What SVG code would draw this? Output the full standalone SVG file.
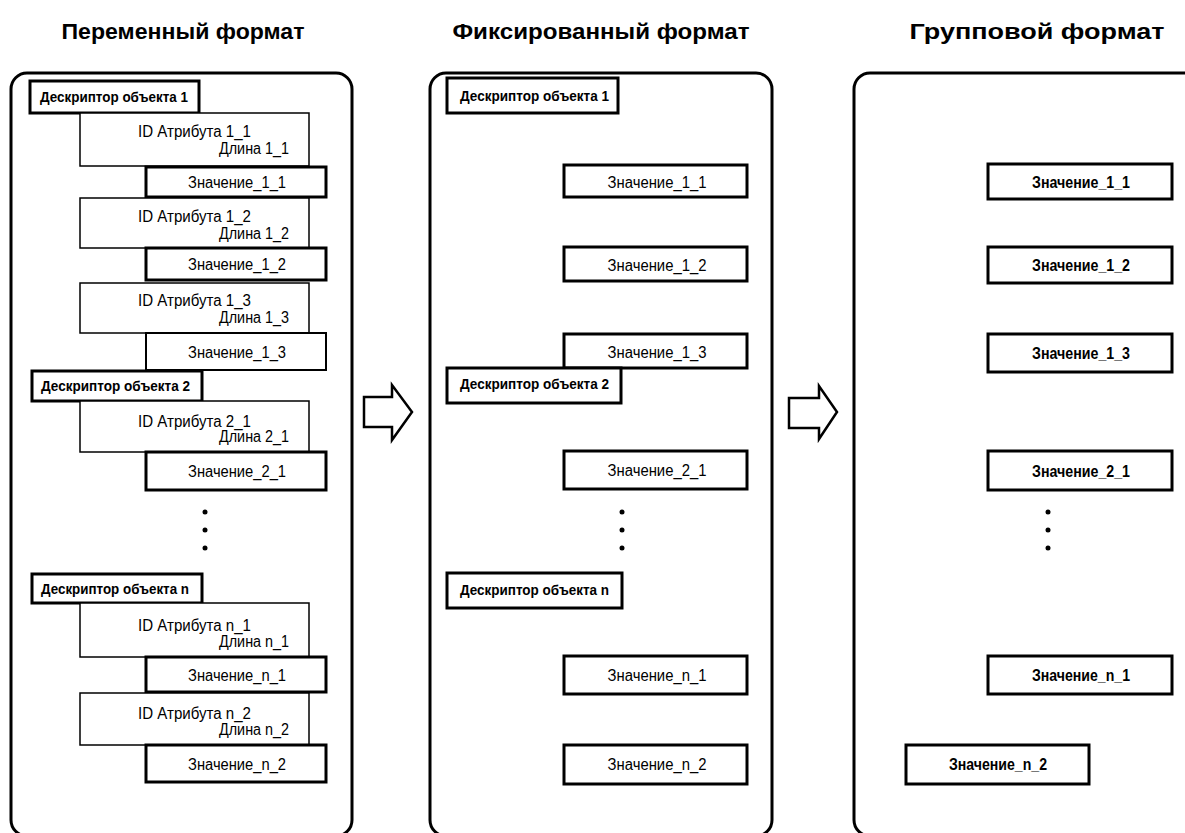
<svg xmlns="http://www.w3.org/2000/svg" width="1185" height="833" viewBox="0 0 1185 833">
<style>
text{font-family:"Liberation Sans",Arial,sans-serif;fill:#000}
.title{font-size:22px;font-weight:bold;text-anchor:middle}
.panel{fill:#fff;stroke:#000;stroke-width:3}
.thick{fill:#fff;stroke:#000;stroke-width:3}
.thin{fill:#fff;stroke:#000;stroke-width:1.5}
.desc{font-size:14px;font-weight:bold}
.val{font-size:16px;text-anchor:middle}
.valb{font-size:16px;font-weight:bold;text-anchor:middle}
.id{font-size:16px}
.len{font-size:16px;text-anchor:end}
.dot{fill:#000}
.arrow{fill:#fff;stroke:#000;stroke-width:2.5;stroke-linejoin:miter}
</style>
<rect width="1185" height="833" fill="#fff"/>
<g id="titles">
<text class="title" x="183" y="39" textLength="243" lengthAdjust="spacingAndGlyphs">Переменный формат</text>
<text class="title" x="601" y="39" textLength="297" lengthAdjust="spacingAndGlyphs">Фиксированный формат</text>
<text class="title" x="1037" y="39" textLength="255" lengthAdjust="spacingAndGlyphs">Групповой формат</text>
</g>
<g id="panels">
<rect id="panel-variable" class="panel" x="11" y="73" width="341" height="763" rx="16"/>
<rect id="panel-fixed" class="panel" x="430" y="73" width="342" height="763" rx="16"/>
<rect id="panel-group" class="panel" x="854" y="73" width="360" height="763" rx="16"/>
</g>
<g id="connectors">
<polygon class="arrow" points="364,397 392,397 392,385 412,412 392,440 392,427 364,427"/>
<polygon class="arrow" points="789,398 819,398 819,386 837,412 819,439 819,428 789,428"/>
</g>
<!-- Panel 1: variable format -->
<g id="v-desc1"><rect class="thick" x="30" y="81" width="169" height="32"/><text class="desc" x="40" y="102" textLength="148" lengthAdjust="spacingAndGlyphs">Дескриптор объекта 1</text></g>
<g id="v-attr1_1"><rect class="thin" x="80" y="113" width="229" height="53"/><text class="id" x="138" y="137" textLength="113" lengthAdjust="spacingAndGlyphs">ID Атрибута 1_1</text><text class="len" x="289" y="154" textLength="70" lengthAdjust="spacingAndGlyphs">Длина 1_1</text></g>
<g id="v-val1_1"><rect class="thick" x="146" y="167" width="180" height="30"/><text class="val" x="237" y="188" textLength="98" lengthAdjust="spacingAndGlyphs">Значение_1_1</text></g>
<g id="v-attr1_2"><rect class="thin" x="80" y="198" width="229" height="50"/><text class="id" x="138" y="222" textLength="113" lengthAdjust="spacingAndGlyphs">ID Атрибута 1_2</text><text class="len" x="289" y="239" textLength="70" lengthAdjust="spacingAndGlyphs">Длина 1_2</text></g>
<g id="v-val1_2"><rect class="thick" x="146" y="248" width="180" height="32"/><text class="val" x="237" y="270" textLength="98" lengthAdjust="spacingAndGlyphs">Значение_1_2</text></g>
<g id="v-attr1_3"><rect class="thin" x="80" y="283" width="229" height="50"/><text class="id" x="138" y="306" textLength="113" lengthAdjust="spacingAndGlyphs">ID Атрибута 1_3</text><text class="len" x="289" y="323" textLength="70" lengthAdjust="spacingAndGlyphs">Длина 1_3</text></g>
<g id="v-val1_3"><rect class="thin" x="146" y="333" width="180" height="37" style="stroke-width:2"/><text class="val" x="237" y="358" textLength="98" lengthAdjust="spacingAndGlyphs">Значение_1_3</text></g>
<g id="v-desc2"><rect class="thick" x="32" y="371" width="170" height="30"/><text class="desc" x="41" y="391" textLength="149" lengthAdjust="spacingAndGlyphs">Дескриптор объекта 2</text></g>
<g id="v-attr2_1"><rect class="thin" x="80" y="401" width="229" height="51"/><text class="id" x="138" y="427" textLength="113" lengthAdjust="spacingAndGlyphs">ID Атрибута 2_1</text><text class="len" x="289" y="442" textLength="70" lengthAdjust="spacingAndGlyphs">Длина 2_1</text></g>
<g id="v-val2_1"><rect class="thick" x="146" y="452" width="180" height="38"/><text class="val" x="237" y="477" textLength="98" lengthAdjust="spacingAndGlyphs">Значение_2_1</text></g>
<g id="v-dots"><circle class="dot" cx="205" cy="512" r="2.5"/><circle class="dot" cx="205" cy="530" r="2.5"/><circle class="dot" cx="205" cy="548" r="2.5"/></g>
<g id="v-descn"><rect class="thick" x="32" y="574" width="170" height="29"/><text class="desc" x="41" y="594" textLength="148" lengthAdjust="spacingAndGlyphs">Дескриптор объекта n</text></g>
<g id="v-attrn_1"><rect class="thin" x="80" y="603" width="229" height="54"/><text class="id" x="138" y="631" textLength="113" lengthAdjust="spacingAndGlyphs">ID Атрибута n_1</text><text class="len" x="289" y="647" textLength="70" lengthAdjust="spacingAndGlyphs">Длина n_1</text></g>
<g id="v-valn_1"><rect class="thick" x="146" y="657" width="180" height="35"/><text class="val" x="237" y="681" textLength="98" lengthAdjust="spacingAndGlyphs">Значение_n_1</text></g>
<g id="v-attrn_2"><rect class="thin" x="80" y="693" width="229" height="52"/><text class="id" x="138" y="719" textLength="113" lengthAdjust="spacingAndGlyphs">ID Атрибута n_2</text><text class="len" x="289" y="735" textLength="70" lengthAdjust="spacingAndGlyphs">Длина n_2</text></g>
<g id="v-valn_2"><rect class="thick" x="146" y="745" width="180" height="37"/><text class="val" x="237" y="770" textLength="98" lengthAdjust="spacingAndGlyphs">Значение_n_2</text></g>
<!-- Panel 2: fixed format -->
<g id="f-desc1"><rect class="thick" x="447" y="78" width="171" height="35"/><text class="desc" x="460" y="101" textLength="149" lengthAdjust="spacingAndGlyphs">Дескриптор объекта 1</text></g>
<g id="f-val1_1"><rect class="thick" x="564" y="165" width="183" height="32"/><text class="val" x="657" y="188" textLength="99" lengthAdjust="spacingAndGlyphs">Значение_1_1</text></g>
<g id="f-val1_2"><rect class="thick" x="564" y="247" width="183" height="34"/><text class="val" x="657" y="271" textLength="99" lengthAdjust="spacingAndGlyphs">Значение_1_2</text></g>
<g id="f-val1_3"><rect class="thick" x="564" y="334" width="183" height="34"/><text class="val" x="657" y="358" textLength="99" lengthAdjust="spacingAndGlyphs">Значение_1_3</text></g>
<g id="f-desc2"><rect class="thick" x="447" y="368" width="174" height="35"/><text class="desc" x="460" y="389" textLength="149" lengthAdjust="spacingAndGlyphs">Дескриптор объекта 2</text></g>
<g id="f-val2_1"><rect class="thick" x="564" y="451" width="183" height="38"/><text class="val" x="657" y="476" textLength="99" lengthAdjust="spacingAndGlyphs">Значение_2_1</text></g>
<g id="f-dots"><circle class="dot" cx="622" cy="512" r="2.5"/><circle class="dot" cx="622" cy="530" r="2.5"/><circle class="dot" cx="622" cy="548" r="2.5"/></g>
<g id="f-descn"><rect class="thick" x="447" y="573" width="175" height="35"/><text class="desc" x="460" y="595" textLength="149" lengthAdjust="spacingAndGlyphs">Дескриптор объекта n</text></g>
<g id="f-valn_1"><rect class="thick" x="564" y="656" width="183" height="38"/><text class="val" x="657" y="681" textLength="99" lengthAdjust="spacingAndGlyphs">Значение_n_1</text></g>
<g id="f-valn_2"><rect class="thick" x="564" y="745" width="183" height="39"/><text class="val" x="657" y="770" textLength="99" lengthAdjust="spacingAndGlyphs">Значение_n_2</text></g>
<!-- Panel 3: group format -->
<g id="g-val1_1"><rect class="thick" x="988" y="164" width="184" height="35"/><text class="valb" x="1081" y="188" textLength="98" lengthAdjust="spacingAndGlyphs">Значение_1_1</text></g>
<g id="g-val1_2"><rect class="thick" x="988" y="247" width="184" height="36"/><text class="valb" x="1081" y="271" textLength="98" lengthAdjust="spacingAndGlyphs">Значение_1_2</text></g>
<g id="g-val1_3"><rect class="thick" x="988" y="334" width="184" height="38"/><text class="valb" x="1081" y="359" textLength="98" lengthAdjust="spacingAndGlyphs">Значение_1_3</text></g>
<g id="g-val2_1"><rect class="thick" x="988" y="451" width="184" height="39"/><text class="valb" x="1081" y="477" textLength="98" lengthAdjust="spacingAndGlyphs">Значение_2_1</text></g>
<g id="g-dots"><circle class="dot" cx="1048" cy="512" r="2.5"/><circle class="dot" cx="1048" cy="530" r="2.5"/><circle class="dot" cx="1048" cy="548" r="2.5"/></g>
<g id="g-valn_1"><rect class="thick" x="988" y="656" width="184" height="38"/><text class="valb" x="1081" y="681" textLength="98" lengthAdjust="spacingAndGlyphs">Значение_n_1</text></g>
<g id="g-valn_2"><rect class="thick" x="906" y="745" width="183" height="39"/><text class="valb" x="998" y="770" textLength="98" lengthAdjust="spacingAndGlyphs">Значение_n_2</text></g>
</svg>
